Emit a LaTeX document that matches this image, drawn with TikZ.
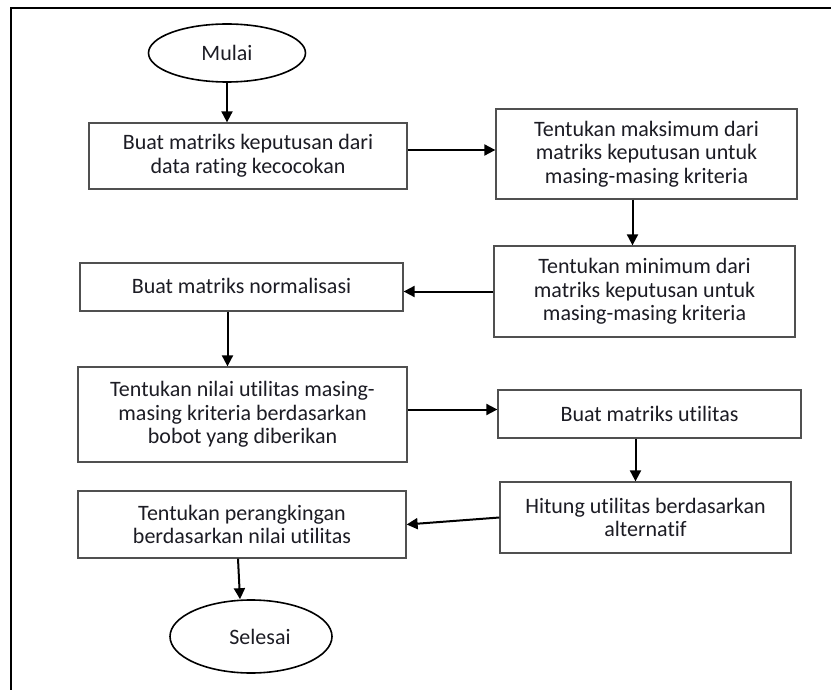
\documentclass[tikz,border=0pt]{standalone}
\usepackage{fontspec}
\setmainfont{Carlito}[Ligatures=NoCommon]
\usetikzlibrary{shapes.geometric,arrows.meta}
\definecolor{boxgray}{HTML}{505050}
\definecolor{textc}{HTML}{1C1C24}
\tikzset{
  procbox/.style={draw=boxgray, line width=1.3pt, fill=white, align=center, inner sep=0pt,
    font=\fontsize{22}{23.5}\selectfont, text=textc},
  term/.style={ellipse, draw=black, line width=1.6pt, inner sep=0pt, align=center,
    font=\fontsize{22}{23.5}\selectfont, text=textc},
  arr/.style={-{Triangle[length=11pt,width=11pt]}, line width=2pt, draw=black}
}
\begin{document}
\begin{tikzpicture}[x=1pt,y=-1pt]
\useasboundingbox (0,0) rectangle (831,690);
\draw[line width=2pt] (11,691) -- (11,8) -- (832,8);

\node[term, minimum width=157pt, minimum height=58pt] (m) at (227,53) {Mulai};
\node[procbox, minimum width=318pt, minimum height=66pt] (b1) at (248,156) {Buat matriks keputusan dari\\data rating kecocokan};
\node[procbox, minimum width=301pt, minimum height=90pt] (b2) at (646.5,154) {Tentukan maksimum dari\\matriks keputusan untuk\\masing-masing kriteria};
\node[procbox, minimum width=301pt, minimum height=91pt] (b3) at (644.5,291.5) {Tentukan minimum dari\\matriks keputusan untuk\\masing-masing kriteria};
\node[procbox, minimum width=323pt, minimum height=48pt] (b4) at (241.5,287) {\raisebox{3pt}{Buat matriks normalisasi}};
\node[procbox, minimum width=329pt, minimum height=95pt] (b5) at (242.5,414.5) {Tentukan nilai utilitas masing-\\masing kriteria berdasarkan\\bobot yang diberikan};
\node[procbox, minimum width=303pt, minimum height=48pt] (b6) at (649.5,414) {Buat matriks utilitas};
\node[procbox, minimum width=291pt, minimum height=71pt] (b7) at (645.5,517.5) {Hitung utilitas berdasarkan\\alternatif};
\node[procbox, minimum width=328pt, minimum height=67pt] (b8) at (242,524.5) {Tentukan perangkingan\\berdasarkan nilai utilitas};
\node[term, minimum width=162pt, minimum height=73pt] (s) at (251,636.5) {\hspace*{18pt}Selesai};

\draw[arr] (m.south) -- (m.south |- b1.north);
\draw[arr] ([yshift=6pt]b1.east) coordinate (c1) -- (c1 -| b2.west);
\draw[arr] ([xshift=-14pt]b2.south) coordinate (c2) -- (c2 |- b3.north);
\draw[arr] (b3.west) -- (b3.west -| b4.east);
\draw[arr] ([xshift=-14pt]b4.south) coordinate (c4) -- (c4 |- b5.north);
\draw[arr] ([yshift=5pt]b5.east) coordinate (c5) -- (c5 -| b6.west);
\draw[arr] ([xshift=-14pt]b6.south) coordinate (c6) -- (c6 |- b7.north);
\draw[arr] (b7.west) -- (b8.east);
\draw[arr] ([xshift=-4pt]b8.south) -- ([xshift=-11pt]s.north);
\end{tikzpicture}
\end{document}
